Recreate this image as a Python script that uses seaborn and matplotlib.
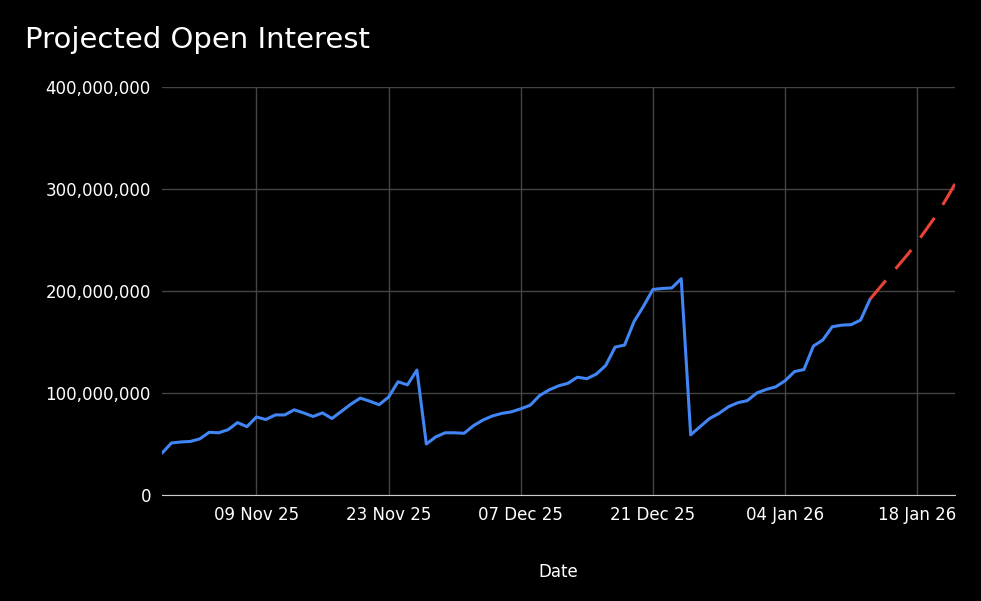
import matplotlib
matplotlib.use("Agg")
import matplotlib.pyplot as plt
import matplotlib.ticker as mticker
import numpy as np
import pandas as pd
import seaborn as sns

# Observed open interest (millions), daily from 30 Oct 2025
actual_m = [41, 51, 52, 52.5, 55, 61.5, 61, 64, 71, 67,
            76.5, 74, 78.5, 78.5, 83.5, 80.5, 77, 80.5, 75, 82,
            89, 95, 92, 88.5, 96, 111, 108, 122.5, 50, 57,
            61, 61, 60.5, 68, 73.5, 77.5, 80, 81.5, 84.5, 88,
            97.5, 103, 107, 109.5, 115.5, 114, 118.5, 127, 145, 147,
            170, 185, 201.5, 202.5, 203, 212, 59, 67, 75, 80,
            86.5, 90.5, 92.5, 100, 103.5, 106, 112, 121, 123, 146,
            152, 165, 166.5, 167, 171.5, 192]
# Projection (millions), daily from 13 Jan 2026
projected_m = [192, 203, 214, 225, 236, 248, 261, 274, 289, 305]

start = pd.Timestamp("2025-10-30")
actual = pd.DataFrame({"date": pd.date_range(start, periods=len(actual_m)),
                       "oi": np.array(actual_m) * 1e6})
proj = pd.DataFrame({"date": pd.date_range(start + pd.Timedelta(days=len(actual_m) - 1),
                                           periods=len(projected_m)),
                     "oi": np.array(projected_m) * 1e6})

sns.set_style("dark")
fig = plt.figure(figsize=(9.81, 6.01), dpi=100, facecolor="black")
ax = fig.add_axes([162 / 981, 1 - 495 / 601, (955 - 162) / 981, (495 - 87) / 601])
ax.set_facecolor("black")

sns.lineplot(data=actual, x="date", y="oi", ax=ax, color="#4285f4", linewidth=2.2)
sns.lineplot(data=proj, x="date", y="oi", ax=ax, color="#ea4335", linewidth=2.2,
             linestyle=(0, (8, 5)))

ax.set_xlim(start, proj["date"].iloc[-1])
ax.set_ylim(0, 4e8)
ax.yaxis.set_major_locator(mticker.MultipleLocator(1e8))
ax.yaxis.set_major_formatter(mticker.FuncFormatter(lambda v, p: f"{v:,.0f}"))
ticks = pd.date_range("2025-11-09", "2026-01-18", freq="14D")
ax.set_xticks(ticks)
ax.set_xticklabels([d.strftime("%d %b %y") for d in ticks])

ax.grid(True, color="#444444", linewidth=1)
for s in ["top", "right", "left"]:
    ax.spines[s].set_visible(False)
ax.spines["bottom"].set_color("#cccccc")
ax.tick_params(colors="white", labelsize=12, length=0, pad=8)
ax.set_xlabel("Date", color="white", fontsize=12, labelpad=28)
ax.set_ylabel("")
fig.text(25 / 981, 1 - 40 / 601, "Projected Open Interest", color="white",
         fontsize=21, va="center", ha="left")

fig.savefig("out.png", dpi=100, facecolor="black")
